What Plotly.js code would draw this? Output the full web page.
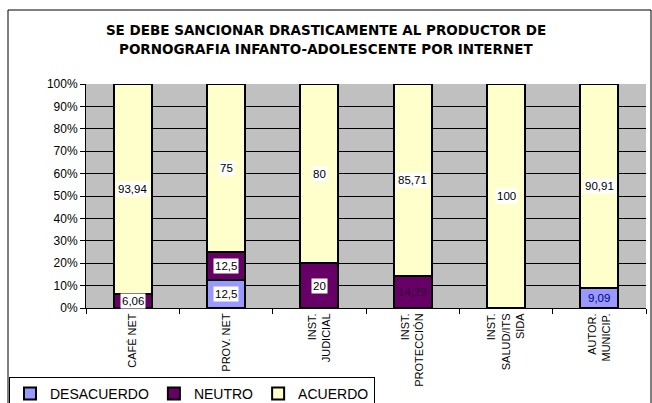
<!DOCTYPE html>
<html>
<head>
<meta charset="utf-8">
<script src="https://cdn.plot.ly/plotly-3.0.1.min.js"></script>
<style>html,body{margin:0;padding:0;background:#fff;}#chart{width:652px;height:403px;}</style>
</head>
<body>
<div id="chart"></div>
<script>
var categories = ["CAFÉ NET", "PROV. NET", "INST.<br>JUDICIAL", "INST.<br>PROTECCIÓN", "INST.<br>SALUD/ITS<br>SIDA", "AUTOR.<br>MUNICIP."];
var seriesNames = ["DESACUERDO", "NEUTRO", "ACUERDO"];
var desacuerdo = [0, 12.5, 0, 0, 0, 9.09];
var neutro = [6.06, 12.5, 20, 14.29, 0, 0];
var acuerdo = [93.94, 75, 80, 85.71, 100, 90.91];
var yTickVals = [0, 10, 20, 30, 40, 50, 60, 70, 80, 90, 100];
var yTickText = ["0%", "10%", "20%", "30%", "40%", "50%", "60%", "70%", "80%", "90%", "100%"];

var series = [desacuerdo, neutro, acuerdo];
var colors = ["#9999FF", "#660066", "#FFFFCC"];
var FONT = "Liberation Sans, Arial, sans-serif";
var TFONT = "DejaVu Sans, Liberation Sans, Arial, sans-serif";

var traces = series.map(function (vals, i) {
  return {
    type: "bar",
    name: seriesNames[i],
    x: categories,
    y: vals,
    marker: { color: colors[i], line: { color: "#000", width: 2 } },
    hoverinfo: "none"
  };
});

// labels without white box: [series, category] -> text colour
var plain = { "1,3": "#330033", "0,5": "#000080" };
var annotations = [];
categories.forEach(function (c, j) {
  var base = 0;
  series.forEach(function (vals, i) {
    var v = vals[j];
    if (v > 0) {
      var key = i + "," + j;
      var a = {
        x: c, y: base + v / 2, xref: "x", yref: "y",
        text: String(v).replace(".", ","),
        showarrow: false,
        font: { family: FONT, size: 11.5, color: plain[key] || "#000" },
        borderpad: 1
      };
      if (!plain[key]) a.bgcolor = "#fff";
      annotations.push(a);
    }
    base += v;
  });
});

// second title line (paper coords)
annotations.push({
  xref: "paper", yref: "paper", x: (326 - 86) / 560, y: (308 - 49) / 224,
  xanchor: "center", yanchor: "middle", showarrow: false,
  text: "<b>PORNOGRAFIA INFANTO-ADOLESCENTE POR INTERNET</b>",
  font: { family: TFONT, size: 13.5, color: "#000" }
});

var layout = {
  width: 652, height: 403,
  margin: { l: 86, r: 6, t: 84, b: 95, autoexpand: false },
  paper_bgcolor: "#fff",
  plot_bgcolor: "#C0C0C0",
  barmode: "stack",
  bargap: 0.59,
  showlegend: true,
  title: {
    text: "<b>SE DEBE SANCIONAR DRASTICAMENTE AL PRODUCTOR DE</b>",
    font: { family: TFONT, size: 13.5, color: "#000" },
    x: (326 - 86) / 560, xref: "paper", xanchor: "center",
    y: 1 - 30 / 403, yref: "container", yanchor: "middle"
  },
  xaxis: {
    type: "category",
    range: [-0.5, 5.5],
    autorange: false,
    tickangle: -90,
    tickson: "boundaries",
    ticks: "outside", ticklen: 5, tickcolor: "#000",
    showline: true, linecolor: "#000", linewidth: 1,
    showgrid: false,
    automargin: false,
    tickfont: { family: FONT, size: 11, color: "#000" },
    fixedrange: true
  },
  yaxis: {
    range: [0, 100],
    autorange: false,
    tickmode: "array",
    tickvals: yTickVals,
    ticktext: yTickText,
    ticks: "outside", ticklen: 5, tickcolor: "#000",
    showline: true, linecolor: "#000", linewidth: 1,
    showgrid: true, gridcolor: "#000", gridwidth: 1,
    zeroline: false,
    automargin: false,
    tickfont: { family: FONT, size: 12, color: "#000" },
    fixedrange: true
  },
  legend: {
    orientation: "h",
    x: (9 - 86) / 560, xanchor: "left",
    y: -(377 - 308) / 224, yanchor: "top",
    bordercolor: "#000", borderwidth: 1,
    bgcolor: "#fff",
    font: { family: FONT, size: 14, color: "#000" },
    traceorder: "normal"
  },
  shapes: [{
    type: "rect", xref: "paper", yref: "paper",
    x0: (8 - 86) / 560, x1: (651 - 86) / 560,
    y0: -(420 - 308) / 224, y1: (308 - 10) / 224,
    line: { color: "#000", width: 1 }, fillcolor: "rgba(0,0,0,0)",
    layer: "below"
  }],
  annotations: annotations
};

Plotly.newPlot("chart", traces, layout, { staticPlot: true, displayModeBar: false });
</script>
</body>
</html>
